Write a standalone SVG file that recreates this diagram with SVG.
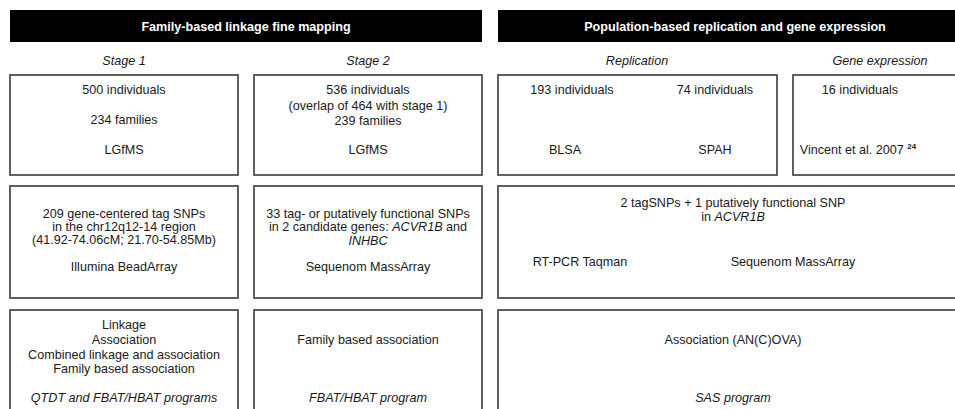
<svg xmlns="http://www.w3.org/2000/svg" width="955" height="409" viewBox="0 0 955 409">
<style>
text{font-family:"Liberation Sans",Arial,sans-serif;font-size:12.6px;fill:#1a1a1a;text-anchor:middle}
.t{fill:#fff;font-weight:bold;font-size:12.6px}
.i{font-style:italic}
.bar{fill:#000}
.box{fill:#fff;stroke:#3a3a3a;stroke-width:1.6}
</style>
<rect width="955" height="409" fill="#fff"/>
<g id="header-left"><rect class="bar" x="10" y="10" width="472" height="32"/><text class="t" x="246" y="31">Family-based linkage fine mapping</text></g>
<g id="header-right"><rect class="bar" x="498" y="10" width="470" height="32"/><text class="t" x="735" y="31">Population-based replication and gene expression</text></g>
<g id="subheads">
<text class="i" x="124" y="65">Stage 1</text>
<text class="i" x="368" y="65">Stage 2</text>
<text class="i" x="637" y="65">Replication</text>
<text class="i" x="880" y="65">Gene expression</text>
</g>
<g id="s1-samples"><rect class="box" x="10" y="75" width="228" height="100"/>
<text x="124" y="94">500 individuals</text><text x="124" y="124">234 families</text><text x="124" y="154">LGfMS</text></g>
<g id="s2-samples"><rect class="box" x="254" y="75" width="228" height="100"/>
<text x="368" y="94">536 individuals</text><text x="368" y="110">(overlap of 464 with stage 1)</text><text x="368" y="125">239 families</text><text x="368" y="154">LGfMS</text></g>
<g id="rep-samples"><rect class="box" x="498" y="75" width="279" height="100"/>
<text x="572" y="94">193 individuals</text><text x="715" y="94">74 individuals</text><text x="565" y="154">BLSA</text><text x="715" y="154">SPAH</text></g>
<g id="gx-samples"><rect class="box" x="793" y="75" width="170" height="100"/>
<text x="860" y="94">16 individuals</text><text x="858" y="154">Vincent et al. 2007 <tspan font-size="8" font-weight="bold" dy="-5">24</tspan></text></g>
<g id="s1-snps"><rect class="box" x="10" y="186" width="228" height="112"/>
<text x="124" y="218">209 gene-centered tag SNPs</text><text x="124" y="231">in the chr12q12-14 region</text><text x="124" y="244">(41.92-74.06cM; 21.70-54.85Mb)</text><text x="124" y="271">Illumina BeadArray</text></g>
<g id="s2-snps"><rect class="box" x="254" y="186" width="228" height="112"/>
<text x="368" y="218">33 tag- or putatively functional SNPs</text><text x="368" y="231">in 2 candidate genes: <tspan class="i">ACVR1B</tspan> and</text><text x="368" y="245" class="i">INHBC</text><text x="368" y="271">Sequenom MassArray</text></g>
<g id="rep-snps"><rect class="box" x="498" y="186" width="470" height="112"/>
<text x="733" y="207">2 tagSNPs + 1 putatively functional SNP</text><text x="733" y="221">in <tspan class="i">ACVR1B</tspan></text><text x="580" y="266">RT-PCR Taqman</text><text x="793" y="266">Sequenom MassArray</text></g>
<g id="s1-analysis"><rect class="box" x="10" y="310" width="228" height="110"/>
<text x="124" y="329">Linkage</text><text x="124" y="344">Association</text><text x="124" y="359">Combined linkage and association</text><text x="124" y="373">Family based association</text><text x="124" y="402" class="i">QTDT and FBAT/HBAT programs</text></g>
<g id="s2-analysis"><rect class="box" x="254" y="310" width="228" height="110"/>
<text x="368" y="344">Family based association</text><text x="368" y="402" class="i">FBAT/HBAT program</text></g>
<g id="rep-analysis"><rect class="box" x="498" y="310" width="470" height="110"/>
<text x="733" y="344">Association (AN(C)OVA)</text><text x="733" y="402" class="i">SAS program</text></g>
<g id="connectors"/>
</svg>
